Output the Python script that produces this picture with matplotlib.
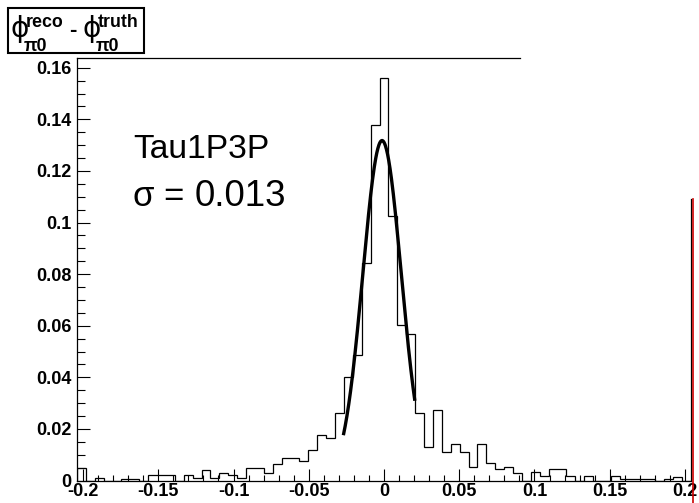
import numpy as np
import matplotlib
matplotlib.use('Agg')
import matplotlib.pyplot as plt
from matplotlib.ticker import MultipleLocator, FuncFormatter
from matplotlib.lines import Line2D
from matplotlib.patches import Rectangle

plt.rcParams['font.family'] = ['Liberation Sans', 'DejaVu Sans']
plt.rcParams['axes.unicode_minus'] = False

# ---- data ----
x_min, x_max = -0.204, 0.204
n_bins = 69
bin_values = [
    0.0047, 0.0, 0.0009, 0.0, 0.0, 0.0007, 0.0007, 0.0, 0.0021, 0.0021,
    0.0021, 0.0, 0.0021, 0.0009, 0.0042, 0.0009, 0.0030, 0.0023, 0.0008, 0.0050,
    0.0050, 0.0030, 0.0065, 0.0086, 0.0086, 0.0074, 0.0118, 0.0175, 0.0166, 0.0263,
    0.0400, 0.0486, 0.0844, 0.1380, 0.1561, 0.1025, 0.0603, 0.0567, 0.0263, 0.0131,
    0.0273, 0.0112, 0.0140, 0.0112, 0.0051, 0.0140, 0.0067, 0.0043, 0.0051, 0.0028,
    0.0, 0.0034, 0.0019, 0.0043, 0.0043, 0.0019, 0.0, 0.0019, 0.0, 0.0,
    0.0019, 0.0007, 0.0007, 0.0007, 0.0007, 0.0, 0.0007, 0.0015, 0.0,
]
fit_amp = 0.1318
fit_mean = -0.0013
fit_sigma = 0.0128
fit_lo, fit_hi = -0.027, 0.0205
y_max = 0.1638
label_sample = 'Tau1P3P'
label_sigma_sym = 'σ'
label_sigma_eq = '='
label_sigma_val = '0.013'
title_phi = 'ϕ'
title_sup1, title_sup2 = 'reco', 'truth'
title_sub = 'π0'
title_minus = '-'

# ---- figure ----
W, H = 699, 503
fig = plt.figure(figsize=(W / 100, H / 100), dpi=100)


def px(x, y):
    return (x / W, 1 - y / H)


ax_l, ax_r, ax_b, ax_t = 77, 691, 480.5, 58
ax = fig.add_axes([ax_l / W, (H - ax_b) / H, (ax_r - ax_l) / W, (ax_b - ax_t) / H])

edges = np.linspace(x_min, x_max, n_bins + 1)
ax.stairs(bin_values, edges, color='black', lw=0.9, baseline=0)

xf = np.linspace(fit_lo, fit_hi, 200)
yf = fit_amp * np.exp(-0.5 * ((xf - fit_mean) / fit_sigma) ** 2)
ax.plot(xf, yf, color='black', lw=2.4, solid_capstyle='butt')

ax.set_xlim(x_min, x_max)
ax.set_ylim(0, y_max)


def fmt(v, pos):
    v = round(v, 6)
    if abs(v) < 1e-9:
        return '0'
    return '%g' % v


ax.xaxis.set_major_locator(MultipleLocator(0.05))
ax.xaxis.set_minor_locator(MultipleLocator(0.01))
ax.yaxis.set_major_locator(MultipleLocator(0.02))
ax.yaxis.set_minor_locator(MultipleLocator(0.005))
ax.xaxis.set_major_formatter(FuncFormatter(fmt))
ax.yaxis.set_major_formatter(FuncFormatter(fmt))

ax.tick_params(axis='x', which='major', direction='in', length=8.6, width=0.8, pad=2,
               labelsize=13, top=False)
ax.tick_params(axis='x', which='minor', direction='in', length=4.3, width=0.8, top=False)
ax.tick_params(axis='y', which='major', direction='in', length=9.4, width=0.8, pad=4,
               labelsize=13, right=False)
ax.tick_params(axis='y', which='minor', direction='in', length=5.8, width=0.8, right=False)
for lab in ax.get_xticklabels() + ax.get_yticklabels():
    lab.set_fontweight('bold')

for s in ['top', 'right']:
    ax.spines[s].set_visible(False)
for s in ['left', 'bottom']:
    ax.spines[s].set_linewidth(0.9)

# partial top frame and right frame (the rest is hidden behind a blank box)
top_end = (520 - ax_l) / (ax_r - ax_l)
ax.add_line(Line2D([0, top_end], [1, 1], transform=ax.transAxes, color='black',
                   lw=0.9, clip_on=False))
right_top = (ax_b - 199) / (ax_b - ax_t)
ax.add_line(Line2D([1, 1], [0, right_top], transform=ax.transAxes, color='black',
                   lw=0.9, clip_on=False))
fig.add_artist(Line2D([692.5 / W, 692.5 / W], [0, (H - 199) / H], color='#cc0000', lw=1.2))

# annotation
fig.text(*px(133, 158), label_sample, fontsize=24.2, va='baseline', ha='left')
fig.text(*px(133, 206), label_sigma_sym, fontsize=25, va='baseline', ha='left')
fig.text(*px(163, 206), label_sigma_eq, fontsize=25, va='baseline', ha='left')
fig.text(*px(195, 206), label_sigma_val, fontsize=26.5, va='baseline', ha='left')

# title box
box = Rectangle(px(7.5, 53), 136.5 / W, 45 / H, transform=fig.transFigure,
                facecolor='white', edgecolor='black', lw=1.5)
fig.add_artist(box)
fs_phi = 20
fs_sup = 12.8
for x0, sup in [(10, title_sup1), (82, title_sup2)]:
    fig.text(*px(x0, 37), title_phi, fontsize=fs_phi, va='baseline', ha='left',
             family=['DejaVu Sans'])
    fig.text(*px(x0 + 15.5, 27), sup, fontsize=fs_sup, va='baseline', ha='left',
             fontweight='bold')
    fig.text(*px(x0 + 14, 51), title_sub, fontsize=fs_sup, va='baseline', ha='left',
             fontweight='bold')
fig.text(*px(69.5, 36), title_minus, fontsize=16, va='baseline', ha='left',
         fontweight='bold')

fig.savefig('out.png', dpi=100)
